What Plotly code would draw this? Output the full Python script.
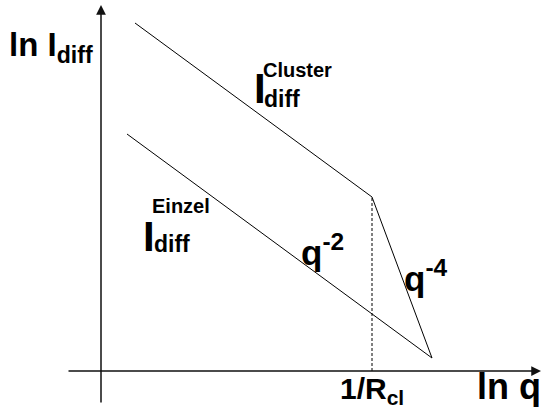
import plotly.graph_objects as go

# Schematic scattering curve: ln I_diff versus ln q (arbitrary units)
ln_q_cluster = [0.68, 5.42, 6.62]     # cluster curve: q^-2 branch, then q^-4 beyond 1/R_cl
ln_i_cluster = [6.96, 3.48, 0.26]
ln_q_single = [0.52, 6.62]            # single-particle curve: q^-2
ln_i_single = [4.74, 0.26]
ln_q_rcl = 5.42                       # position of 1/R_cl on the q axis

FONT = "Liberation Sans, Arial, sans-serif"

fig = go.Figure()

fig.add_trace(go.Scatter(x=ln_q_cluster, y=ln_i_cluster, mode="lines",
                         line=dict(color="black", width=1), hoverinfo="skip"))
fig.add_trace(go.Scatter(x=ln_q_single, y=ln_i_single, mode="lines",
                         line=dict(color="black", width=1), hoverinfo="skip"))
# dashed marker from the kink down to the q axis
fig.add_trace(go.Scatter(x=[ln_q_rcl, ln_q_rcl], y=[0, ln_i_cluster[1]], mode="lines",
                         line=dict(color="black", width=1, dash="3px,2px"), hoverinfo="skip"))


def px(xp):
    return (xp - 101) / 50.0


def py(yp):
    return (371 - yp) / 50.0


ann = []
# axes drawn as arrows
ann.append(dict(x=0, y=py(5), ax=0, ay=py(404), xref="x", yref="y", axref="x", ayref="y",
                showarrow=True, arrowhead=2, arrowsize=1.3, arrowwidth=1.5, arrowcolor="#111", text=""))
ann.append(dict(x=px(541), y=0, ax=px(67), ay=0, xref="x", yref="y", axref="x", ayref="y",
                showarrow=True, arrowhead=2, arrowsize=1.3, arrowwidth=1.5, arrowcolor="#111", text=""))


def label(text, xp, yp, size, xanchor="left", yanchor="middle"):
    ann.append(dict(x=px(xp), y=py(yp), xref="x", yref="y", text=text, showarrow=False,
                    xanchor=xanchor, yanchor=yanchor,
                    font=dict(family=FONT, size=size, color="black", weight="bold")))


label("ln I<sub>diff</sub>", 7, 47, 33)
label("ln q", 475, 386, 36)
label("1/R<sub>cl</sub>", 338, 390, 30)

# I_diff with stacked super/subscripts
label("I", 252, 88, 42)
label("Cluster", 261, 70, 20)
label("diff", 262, 99, 23)

label("I", 141, 236, 42)
label("Einzel", 150, 206, 20)
label("diff", 152, 244, 23)

label("q<sup>-2</sup>", 299, 250, 35)
label("q<sup>-4</sup>", 402, 276, 35)

fig.update_layout(
    width=542, height=411,
    margin=dict(l=0, r=0, t=0, b=0),
    paper_bgcolor="white", plot_bgcolor="white",
    showlegend=False,
    xaxis=dict(range=[px(0), px(542)], visible=False, fixedrange=True),
    yaxis=dict(range=[py(411), py(0)], visible=False, fixedrange=True),
    annotations=ann,
)

fig.write_html("out.html")
